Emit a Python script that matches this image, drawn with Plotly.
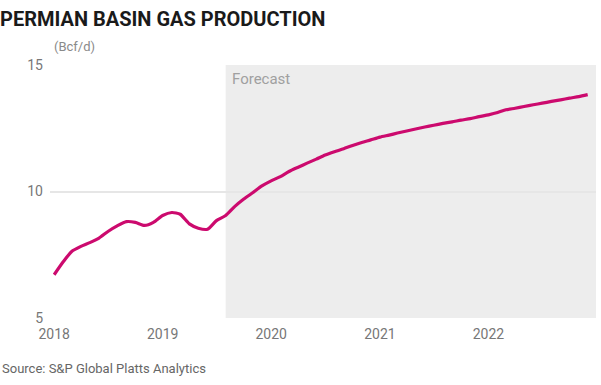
import plotly.graph_objects as go
import pandas as pd

# Monthly Permian Basin gas production (Bcf/d), Jan 2018 - Dec 2022
months = pd.date_range("2018-01-01", "2022-12-01", freq="MS").strftime("%Y-%m-%d").tolist()
production = [
    6.71, 7.23, 7.63, 7.83, 7.98, 8.16, 8.42, 8.64, 8.81, 8.78, 8.66, 8.78,
    9.05, 9.17, 9.10, 8.72, 8.55, 8.51, 8.85, 9.05, 9.41, 9.70, 9.96, 10.22,
    10.42, 10.59, 10.79, 10.96, 11.12, 11.28, 11.44, 11.57, 11.69, 11.82, 11.94, 12.04,
    12.15, 12.23, 12.31, 12.39, 12.47, 12.55, 12.62, 12.69, 12.75, 12.82, 12.88, 12.96,
    13.03, 13.12, 13.23, 13.29, 13.36, 13.43, 13.49, 13.56, 13.62, 13.69, 13.75, 13.83,
]
forecast_start = "2019-08-01"
forecast_end = "2022-12-29"
x_range = ["2017-12-18", "2022-12-29"]
y_ticks = [5, 10, 15]
title = "PERMIAN BASIN GAS PRODUCTION"
unit = "(Bcf/d)"
source = "Source: S&P Global Platts Analytics"

fig = go.Figure()
fig.add_trace(go.Scatter(
    x=months, y=production, mode="lines",
    line=dict(color="#cc0a6e", width=3.2, shape="spline", smoothing=0.6),
    hoverinfo="skip", showlegend=False,
))

fig.add_shape(type="rect", xref="x", yref="y",
              x0=forecast_start, x1=forecast_end, y0=5, y1=15,
              fillcolor="#ededed", line_width=0, layer="below")

fig.add_annotation(x=forecast_start, y=15, xref="x", yref="y",
                   text="Forecast", showarrow=False,
                   xanchor="left", yanchor="top", xshift=4, yshift=-3,
                   font=dict(family="Roboto", size=15, color="#a0a0a0"))

fig.add_annotation(x=0.004, y=1, xref="paper", yref="paper",
                   text=unit, showarrow=False, xanchor="left", yanchor="bottom",
                   yshift=9, font=dict(family="Roboto", size=13, color="#8a8a8a"))

fig.add_annotation(x=-50/546, y=-50/253, xref="paper", yref="paper",
                   text=source, showarrow=False, xanchor="left", yanchor="middle",
                   font=dict(family="Roboto", size=13, color="#666666"))

fig.update_layout(
    width=601, height=385,
    margin=dict(l=50, r=5, t=65, b=67),
    paper_bgcolor="white", plot_bgcolor="white",
    title=dict(text="<b>" + title + "</b>", x=0, xref="container", xanchor="left",
               y=1 - 19/385, yref="container", yanchor="middle",
               font=dict(family="Roboto", size=20, color="#1a1a1a")),
    font=dict(family="Roboto"),
    xaxis=dict(range=x_range, type="date", dtick="M12", tick0="2018-01-01",
               tickformat="%Y", showgrid=False, zeroline=False, showline=False,
               ticks="", ticklabelstandoff=6,
               tickfont=dict(size=14, color="#777777")),
    yaxis=dict(range=[5, 15], tickvals=y_ticks, showgrid=True, gridcolor="#e6e6e6",
               gridwidth=1.5, zeroline=False, showline=False, ticks="",
               ticklabelstandoff=6,
               tickfont=dict(size=14, color="#777777")),
)

fig.write_html("out.html", config={"displayModeBar": False},
               post_script="document.body.style.margin='0px';")
